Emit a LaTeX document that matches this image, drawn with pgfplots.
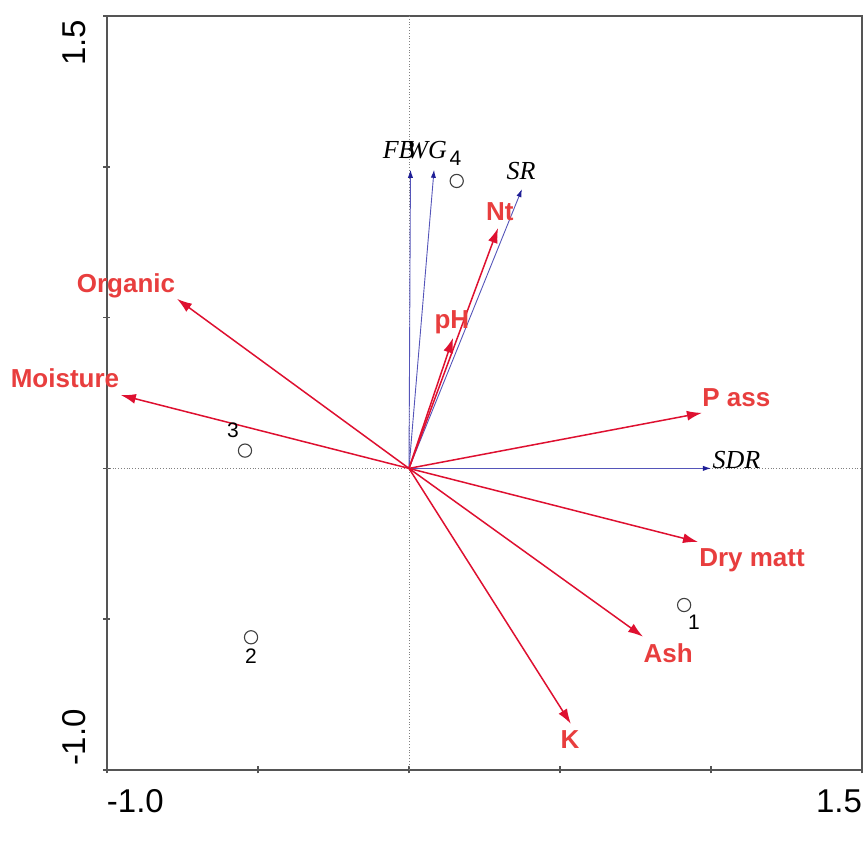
\documentclass[border=0pt]{standalone}
\usepackage{pgfplots}
\pgfplotsset{compat=1.18}
\usepackage{fontspec}
\setmainfont{Liberation Sans}
\newfontfamily\serifit{Liberation Serif}
\usetikzlibrary{arrows.meta}
\definecolor{arrred}{RGB}{222,16,48}
\definecolor{labred}{RGB}{232,62,62}
\definecolor{spblue}{RGB}{30,30,150}
\definecolor{splight}{RGB}{85,85,185}
\definecolor{framegray}{RGB}{85,85,85}
\begin{document}
\begin{tikzpicture}
\begin{axis}[
  scale only axis, width=377.5pt, height=377pt,
  xmin=-1, xmax=1.5, ymin=-1, ymax=1.5,
  clip=false,
  axis line style={line width=1pt, framegray},
  tick style={line width=0.8pt, framegray},
  tick align=center, major tick length=3.5pt,
  tick pos=left,
  xtick={-1,-0.5,0,0.5,1,1.5},
  ytick={-1,-0.5,0,0.5,1,1.5},
  xticklabels={{\makebox[0pt][l]{-1.0}},{},{},{},{},{\makebox[0pt][r]{1.5}}},
  yticklabels={{\makebox[0pt][l]{\hspace{2pt}-1.0}},{},{},{},{},{\makebox[0pt][r]{1.5\hspace{2pt}}}},
  ticklabel style={font=\fontsize{16.5}{18}\selectfont, inner sep=0pt},
  xticklabel style={anchor=north},
  yticklabel style={rotate=90, anchor=south},
  xticklabel shift=8pt,
  yticklabel shift=8.5pt,
]
% bounding box
\path (rel axis cs:-0.1417,-0.1061) rectangle (rel axis cs:1.0013,1.0212);
% origin lines
\addplot[densely dotted, gray, line width=0.4pt] coordinates {(0,-1) (0,1.5)};
\addplot[densely dotted, gray, line width=0.4pt] coordinates {(-1,0) (1.5,0)};
% species arrows (blue)
\addplot[splight, line width=0.45pt, -{Latex[length=4pt,width=2.6pt,color=spblue]}] coordinates {(0,0) (0.005,0.99)};
\addplot[splight, line width=0.45pt, -{Latex[length=4pt,width=2.6pt,color=spblue]}] coordinates {(0,0) (0.083,0.99)};
\addplot[splight, line width=0.45pt, -{Latex[length=4pt,width=2.6pt,color=spblue]}] coordinates {(0,0) (0.374,0.926)};
\addplot[splight, line width=0.45pt, -{Latex[length=4pt,width=2.6pt,color=spblue]}] coordinates {(0,0) (1.0,0.0)};
% environmental arrows (red)
\addplot[arrred, line width=0.75pt, -{Latex[length=7.5pt,width=5pt]}] coordinates {(0,0) (0.295,0.797)};
\addplot[arrred, line width=0.75pt, -{Latex[length=7.5pt,width=5pt]}] coordinates {(0,0) (0.146,0.433)};
\addplot[arrred, line width=0.75pt, -{Latex[length=7.5pt,width=5pt]}] coordinates {(0,0) (-0.768,0.562)};
\addplot[arrred, line width=0.75pt, -{Latex[length=7.5pt,width=5pt]}] coordinates {(0,0) (-0.954,0.243)};
\addplot[arrred, line width=0.75pt, -{Latex[length=7.5pt,width=5pt]}] coordinates {(0,0) (0.970,0.184)};
\addplot[arrred, line width=0.75pt, -{Latex[length=7.5pt,width=5pt]}] coordinates {(0,0) (0.957,-0.244)};
\addplot[arrred, line width=0.75pt, -{Latex[length=7.5pt,width=5pt]}] coordinates {(0,0) (0.775,-0.558)};
\addplot[arrred, line width=0.75pt, -{Latex[length=7.5pt,width=5pt]}] coordinates {(0,0) (0.536,-0.847)};
% samples
\addplot[only marks, mark=o, mark size=3.3pt, mark options={draw=black!75, line width=0.55pt}] coordinates {
 (0.158,0.953) (-0.543,0.059) (-0.523,-0.560) (0.911,-0.453)};
% red labels
\begin{scope}[every node/.style={font=\bfseries\fontsize{13}{15}\selectfont, text=labred, anchor=base, inner sep=0pt}]
\node at (axis cs:-0.937,0.582) {Organic};
\node at (axis cs:-1.139,0.267) {Moisture};
\node at (axis cs:0.301,0.821) {Nt};
\node at (axis cs:0.142,0.465) {pH};
\node at (axis cs:1.084,0.204) {P ass};
\node at (axis cs:1.136,-0.324) {Dry matt};
\node at (axis cs:0.858,-0.645) {Ash};
\node at (axis cs:0.533,-0.930) {K};
\end{scope}
% species labels
\begin{scope}[every node/.style={font=\serifit\itshape\fontsize{13}{15}\selectfont, inner sep=0pt}]
\node[anchor=base east] at (axis cs:0.02,1.029) {FB};
\node[anchor=base west] at (axis cs:-0.01,1.029) {WG};
\node[anchor=base] at (axis cs:0.371,0.957) {SR};
\node[anchor=base] at (axis cs:1.084,-0.002) {SDR};
\end{scope}
% sample labels
\begin{scope}[every node/.style={font=\fontsize{10.5}{12}\selectfont, anchor=base, inner sep=0pt}]
\node at (axis cs:0.154,1.003) {4};
\node at (axis cs:-0.583,0.101) {3};
\node at (axis cs:-0.523,-0.648) {2};
\node at (axis cs:0.944,-0.535) {1};
\end{scope}
\end{axis}
\end{tikzpicture}
\end{document}
